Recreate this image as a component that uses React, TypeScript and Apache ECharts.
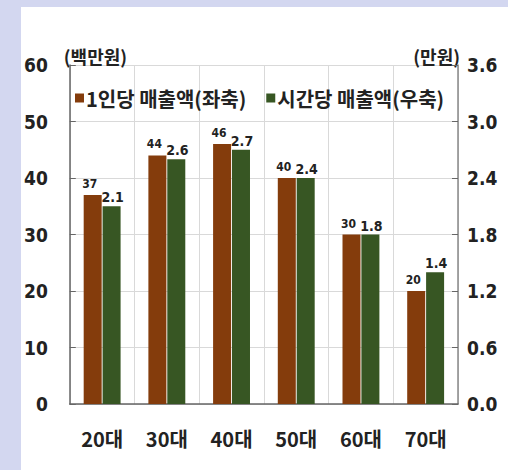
import React, { useEffect, useRef } from "react";
import * as echarts from "echarts";

const categories = ["20대", "30대", "40대", "50대", "60대", "70대"];
const perPerson = [37, 44, 46, 40, 30, 20];
const perHour = [2.1, 2.6, 2.7, 2.4, 1.8, 1.4];
const leftTicks = { min: 0, max: 60, interval: 10 };
const rightTicks = { min: 0, max: 3.6, interval: 0.6 };
const seriesNames = ["1인당 매출액(좌축)", "시간당 매출액(우축)"];
const axisNames = ["(백만원)", "(만원)"];

const FONT = "'DejaVu Sans Condensed', 'Noto Sans CJK KR', sans-serif";
const KFONT = "'Noto Sans CJK KR', sans-serif";

export default function App() {
  const ref = useRef<HTMLDivElement>(null);
  useEffect(() => {
    if (!ref.current) return;
    const chart = echarts.init(ref.current, null, { renderer: "svg" });
    chart.setOption({
      animation: false,
      backgroundColor: "transparent",
      textStyle: { fontFamily: KFONT },
      grid: { left: 48, right: 50, top: 58, bottom: 66 },
      legend: {
        left: 49,
        top: 76,
        itemWidth: 9,
        itemHeight: 9,
        itemGap: 20,
        icon: "rect",
        textStyle: { fontFamily: KFONT, fontSize: 20, fontWeight: "bold", color: "#222", padding: [0, 0, 0, -3] },
        data: seriesNames,
      },
      xAxis: {
        type: "category",
        data: categories,
        axisLine: { lineStyle: { color: "#666", width: 1.5 } },
        axisTick: { show: false },
        axisLabel: { margin: 24, fontSize: 20, fontWeight: "bold", color: "#222", fontFamily: KFONT },
        splitLine: { show: true, lineStyle: { color: "#d9d9d9" } },
      },
      yAxis: [
        {
          type: "value",
          ...leftTicks,
          name: axisNames[0],
          nameGap: 0,
          nameTextStyle: { fontFamily: KFONT, fontSize: 18, fontWeight: "bold", color: "#222", align: "left", padding: [0, 0, 0, -6] },
          axisLine: { show: true, lineStyle: { color: "#666", width: 1.5 } },
          axisTick: { show: true, inside: true, length: 6, lineStyle: { color: "#666" } },
          axisLabel: { margin: 22, fontSize: 19, fontWeight: "bold", color: "#222", fontFamily: FONT },
          splitLine: { show: true, lineStyle: { color: "#d9d9d9" } },
        },
        {
          type: "value",
          ...rightTicks,
          name: axisNames[1],
          nameGap: 0,
          nameTextStyle: { fontFamily: KFONT, fontSize: 18, fontWeight: "bold", color: "#222", align: "right", padding: [0, -2, 0, 0] },
          axisLine: { show: true, lineStyle: { color: "#888", width: 1.5 } },
          axisTick: { show: true, inside: true, length: 6, lineStyle: { color: "#666" } },
          axisLabel: {
            margin: 9,
            fontSize: 19,
            fontWeight: "bold",
            color: "#222",
            fontFamily: FONT,
            formatter: (v: number) => v.toFixed(1),
          },
          splitLine: { show: false },
        },
      ],
      series: [
        {
          name: seriesNames[0],
          type: "bar",
          yAxisIndex: 0,
          data: perPerson,
          barWidth: 18,
          barGap: "5%",
          itemStyle: { color: "#843C0C" },
          label: {
            show: true,
            position: "top",
            distance: 5,
            offset: [-3, 0],
            fontSize: 12,
            fontWeight: "bold",
            color: "#222",
            fontFamily: FONT,
          },
        },
        {
          name: seriesNames[1],
          type: "bar",
          yAxisIndex: 1,
          data: perHour,
          barWidth: 18,
          barGap: "5%",
          itemStyle: { color: "#375623" },
          label: {
            show: true,
            position: "top",
            distance: 2,
            offset: [1, 0],
            fontSize: 14,
            fontWeight: "bold",
            color: "#222",
            fontFamily: FONT,
            formatter: (p: any) => Number(p.value).toFixed(1),
          },
        },
      ],
    });
    return () => chart.dispose();
  }, []);
  return (
    <div style={{ position: "absolute", left: 0, top: 0, width: 508, height: 470, background: "#d3d7f0" }}>
      <div style={{ position: "absolute", left: 21, top: 7, width: 487, height: 463, background: "#ffffff" }}>
        <div ref={ref} style={{ width: 487, height: 463 }} />
      </div>
    </div>
  );
}
